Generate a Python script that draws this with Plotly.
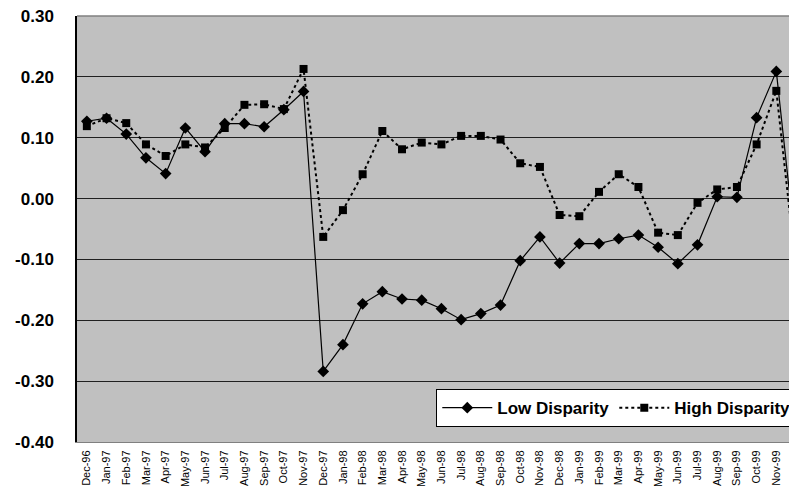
import plotly.graph_objects as go

months = ["Dec-96", "Jan-97", "Feb-97", "Mar-97", "Apr-97", "May-97", "Jun-97", "Jul-97",
          "Aug-97", "Sep-97", "Oct-97", "Nov-97", "Dec-97", "Jan-98", "Feb-98", "Mar-98",
          "Apr-98", "May-98", "Jun-98", "Jul-98", "Aug-98", "Sep-98", "Oct-98", "Nov-98",
          "Dec-98", "Jan-99", "Feb-99", "Mar-99", "Apr-99", "May-99", "Jun-99", "Jul-99",
          "Aug-99", "Sep-99", "Oct-99", "Nov-99", "Dec-99"]

low_disparity = [0.127, 0.132, 0.106, 0.067, 0.041, 0.116, 0.077, 0.123,
                 0.123, 0.118, 0.146, 0.176, -0.284, -0.240, -0.173, -0.153,
                 -0.165, -0.167, -0.181, -0.199, -0.189, -0.175, -0.102, -0.063,
                 -0.106, -0.074, -0.074, -0.066, -0.060, -0.080, -0.107, -0.076,
                 0.003, 0.002, 0.133, 0.209, -0.089]

high_disparity = [0.119, 0.132, 0.124, 0.089, 0.070, 0.089, 0.084, 0.116,
                  0.154, 0.155, 0.147, 0.213, -0.063, -0.019, 0.040, 0.111,
                  0.081, 0.092, 0.089, 0.103, 0.103, 0.097, 0.058, 0.052,
                  -0.027, -0.029, 0.011, 0.040, 0.019, -0.056, -0.060, -0.007,
                  0.015, 0.019, 0.089, 0.177, -0.116]

y_ticks = [-0.4, -0.3, -0.2, -0.1, 0.0, 0.1, 0.2, 0.3]
y_labels = ["-0.40", "-0.30", "-0.20", "-0.10", "0.00", "0.10", "0.20", "0.30"]

xi = list(range(len(months)))

fig = go.Figure()
fig.add_trace(go.Scatter(
    x=xi, y=low_disparity, name="Low Disparity", mode="lines+markers",
    line=dict(color="black", width=1.2),
    marker=dict(symbol="diamond", size=9, color="black"),
    cliponaxis=False,
))
fig.add_trace(go.Scatter(
    x=xi, y=high_disparity, name="High Disparity", mode="lines+markers",
    line=dict(color="black", width=2, dash="dot"),
    marker=dict(symbol="square", size=8, color="black"),
    cliponaxis=False,
))

fig.update_layout(
    width=789, height=484,
    margin=dict(l=69, r=0, t=8, b=50),
    paper_bgcolor="white",
    plot_bgcolor="#C0C0C0",
    font=dict(family="Liberation Sans, Arial, sans-serif", color="black"),
    showlegend=True,
    legend=dict(
        orientation="h", x=0.999, xanchor="right", y=0.035, yanchor="bottom",
        bgcolor="white", bordercolor="black", borderwidth=1,
        font=dict(size=17, family="Liberation Sans, Arial, sans-serif", weight="bold"),
        tracegroupgap=0, itemwidth=50,
    ),
    xaxis=dict(
        range=[-0.5, 36.05], automargin=False,
        tickmode="array", tickvals=xi, ticktext=months,
        tickangle=-90, tickfont=dict(size=11),
        showgrid=False, zeroline=False,
        showline=True, linecolor="#808080", linewidth=1,
        ticks="", ticklabelstandoff=3, ticklabeloverflow="allow",
    ),
    yaxis=dict(
        range=[-0.4, 0.3], automargin=False,
        tickmode="array", tickvals=y_ticks, ticktext=y_labels,
        tickfont=dict(size=17, weight="bold"),
        showgrid=True, gridcolor="#202020", gridwidth=1,
        zeroline=True, zerolinecolor="#202020", zerolinewidth=1,
        showline=True, linecolor="black", linewidth=1.5,
        ticks="", ticklabelstandoff=18, ticklabeloverflow="allow",
    ),
)

fig.add_shape(type="line", xref="paper", yref="paper", x0=0, x1=1, y0=1, y1=1,
              line=dict(color="#808080", width=1.5))

fig.write_html("out.html")
